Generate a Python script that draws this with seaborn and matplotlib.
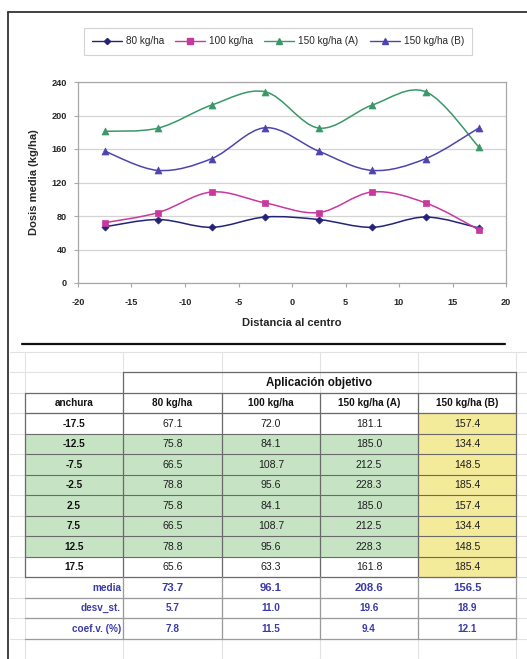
import numpy as np
import pandas as pd
import matplotlib
matplotlib.use("Agg")
import matplotlib.pyplot as plt
from matplotlib.path import Path
from matplotlib.patches import PathPatch, Rectangle
from matplotlib.lines import Line2D
import seaborn as sns

# ---- data -------------------------------------------------------------
anchura = [-17.5, -12.5, -7.5, -2.5, 2.5, 7.5, 12.5, 17.5]
dosis_80 = [67.1, 75.8, 66.5, 78.8, 75.8, 66.5, 78.8, 65.6]
dosis_100 = [72.0, 84.1, 108.7, 95.6, 84.1, 108.7, 95.6, 63.3]
dosis_150a = [181.1, 185.0, 212.5, 228.3, 185.0, 212.5, 228.3, 161.8]
dosis_150b = [157.4, 134.4, 148.5, 185.4, 157.4, 134.4, 148.5, 185.4]
series_names = ["80 kg/ha", "100 kg/ha", "150 kg/ha (A)", "150 kg/ha (B)"]

stat_labels = ["media", "desv_st.", "coef.v. (%)"]
media = [73.7, 96.1, 208.6, 156.5]
desv_st = [5.7, 11.0, 19.6, 18.9]
coef_v = [7.8, 11.5, 9.4, 12.1]

x_ticks = [-20, -15, -10, -5, 0, 5, 10, 15, 20]
y_ticks = [0, 40, 80, 120, 160, 200, 240]

# ---- style ------------------------------------------------------------
sns.set_theme(style="white")
plt.rcParams["font.family"] = ["Liberation Sans", "DejaVu Sans"]

colors = {"80 kg/ha": "#23237a", "100 kg/ha": "#c8389e",
          "150 kg/ha (A)": "#3a9868", "150 kg/ha (B)": "#4e44b0"}
markers = {"80 kg/ha": "D", "100 kg/ha": "s",
           "150 kg/ha (A)": "^", "150 kg/ha (B)": "^"}
msizes = {"80 kg/ha": 3.6, "100 kg/ha": 4.6,
          "150 kg/ha (A)": 5.0, "150 kg/ha (B)": 5.0}

values = {"80 kg/ha": dosis_80, "100 kg/ha": dosis_100,
          "150 kg/ha (A)": dosis_150a, "150 kg/ha (B)": dosis_150b}
df = pd.concat([pd.DataFrame({"anchura": anchura, "dosis": values[n], "serie": n})
                for n in series_names], ignore_index=True)

W, H = 527, 659
fig = plt.figure(figsize=(W / 100, H / 100), dpi=100)

# page overlay in pixel coordinates (borders and table)
pg = fig.add_axes([0, 0, 1, 1])
pg.set_xlim(0, W)
pg.set_ylim(H, 0)
pg.axis("off")
pg.patch.set_alpha(0)

# ---- line chart -------------------------------------------------------
ax = fig.add_axes([78 / W, 1 - 283 / H, 428 / W, 201 / H])
ax.set_facecolor("white")


def smooth_path(xs, ys):
    """Cubic Bezier through the points (Catmull-Rom style tangents)."""
    pts = np.column_stack([xs, ys]).astype(float)
    n = len(pts)
    verts = [pts[0]]
    codes = [Path.MOVETO]
    for i in range(n - 1):
        p0 = pts[max(i - 1, 0)]
        p1 = pts[i]
        p2 = pts[i + 1]
        p3 = pts[min(i + 2, n - 1)]
        c1 = p1 + (p2 - p0) / 6.0
        c2 = p2 - (p3 - p1) / 6.0
        verts += [c1, c2, p2]
        codes += [Path.CURVE4] * 3
    return Path(verts, codes)


for name in series_names:
    sub = df[df["serie"] == name]
    ax.add_patch(PathPatch(smooth_path(sub["anchura"], sub["dosis"]),
                           facecolor="none", edgecolor=colors[name],
                           lw=1.1, zorder=3))

for name in series_names:
    sub = df[df["serie"] == name]
    sns.scatterplot(data=sub, x="anchura", y="dosis", ax=ax,
                    marker=markers[name], color=colors[name],
                    s=msizes[name] ** 2, edgecolor=colors[name],
                    linewidth=0.5, zorder=4, legend=False)

ax.set_xlim(-20, 20)
ax.set_ylim(0, 240)
ax.set_xticks(x_ticks)
ax.set_yticks(y_ticks)
ax.set_xticklabels([str(t) for t in x_ticks])
ax.set_yticklabels([str(t) for t in y_ticks])
ax.grid(axis="y", color="#d4d4d4", lw=0.9)
ax.grid(axis="x", visible=False)
ax.set_axisbelow(True)
for sp in ax.spines.values():
    sp.set_color("#a8a8a8")
    sp.set_linewidth(0.9)
ax.tick_params(axis="both", length=3, width=0.8, color="#a8a8a8",
               labelsize=6.6, pad=5, direction="out")
ax.tick_params(axis="x", pad=8)
ax.tick_params(axis="y", left=True)
ax.tick_params(axis="x", bottom=True)
for lab in ax.get_xticklabels() + ax.get_yticklabels():
    lab.set_fontweight("bold")
ax.set_xlabel("Distancia al centro", fontsize=8, fontweight="bold", labelpad=8)
ax.set_ylabel("Dosis media (kg/ha)", fontsize=8, fontweight="bold", labelpad=9)

handles = [Line2D([0], [0], color=colors[n], marker=markers[n],
                  markersize=msizes[n] - 0.5, lw=1.0) for n in series_names]
leg = fig.legend(handles, series_names, loc="center",
                 bbox_to_anchor=(278 / W, 1 - 41 / H), ncol=4, fontsize=7.2,
                 frameon=True, fancybox=False, handlelength=3.0,
                 handletextpad=0.4, columnspacing=1.1, borderpad=0.85)
leg.get_frame().set_edgecolor("#c8c8c8")
leg.get_frame().set_linewidth(0.8)

# ---- page borders and separator -----------------------------------------
pg.plot([8, 8], [12, H], color="#333333", lw=1.3)
pg.plot([8, W], [12, 12], color="#333333", lw=1.3)
pg.plot([22, 505], [344, 344], color="#111111", lw=1.6)

# ---- table --------------------------------------------------------------
col_x = [25, 123, 222, 320, 418, 516]
h1_top, h1_bot, h2_bot = 372, 393, 413
row_h = 20.5
n_data = len(anchura)
n_rows = n_data + len(stat_labels)
row_y = [h2_bot + row_h * k for k in range(n_rows + 1)]

green = "#c6e3c4"
yellow = "#f3ea9a"
grid_faint = "#e2e2e2"
line_dark = "#6a6a6a"
line_mid = "#9a9a9a"
blue_txt = "#3a3aa8"

# faint sheet gridlines around the table
for y in [352, h1_top, h1_bot, h2_bot] + row_y + [row_y[-1] + row_h]:
    pg.plot([10, W], [y, y], color=grid_faint, lw=0.8, zorder=0)
for x in col_x:
    pg.plot([x, x], [352, H], color=grid_faint, lw=0.8, zorder=0)

# cell fills
for i in range(n_data):
    y0 = row_y[i]
    if 1 <= i <= n_data - 2:
        pg.add_patch(Rectangle((col_x[0], y0), col_x[4] - col_x[0], row_h,
                               facecolor=green, edgecolor="none", zorder=1))
    pg.add_patch(Rectangle((col_x[4], y0), col_x[5] - col_x[4], row_h,
                           facecolor=yellow, edgecolor="none", zorder=1))

# header borders
pg.plot([col_x[1], col_x[5]], [h1_top, h1_top], color=line_dark, lw=0.9, zorder=2)
pg.plot([col_x[0], col_x[5]], [h1_bot, h1_bot], color=line_dark, lw=0.9, zorder=2)
pg.plot([col_x[1], col_x[1]], [h1_top, h1_bot], color=line_dark, lw=0.9, zorder=2)
pg.plot([col_x[5], col_x[5]], [h1_top, h1_bot], color=line_dark, lw=0.9, zorder=2)
pg.plot([col_x[0], col_x[5]], [h2_bot, h2_bot], color=line_dark, lw=0.9, zorder=2)

# data grid lines
data_bot = row_y[n_data]
for y in row_y[1:n_data]:
    pg.plot([col_x[0], col_x[5]], [y, y], color=line_dark, lw=0.8, zorder=2)
pg.plot([col_x[0], col_x[5]], [data_bot, data_bot], color=line_dark, lw=0.9, zorder=2)
for x in col_x:
    pg.plot([x, x], [h1_bot, data_bot], color=line_dark, lw=0.9, zorder=2)

# stats rows lines
for y in row_y[n_data + 1:]:
    pg.plot([col_x[0], col_x[5]], [y, y], color=line_mid, lw=0.9, zorder=2)
for x in col_x[1:]:
    pg.plot([x, x], [data_bot, row_y[-1]], color=line_mid, lw=0.9, zorder=2)

def cx(c):
    return (col_x[c] + col_x[c + 1]) / 2

tk = dict(fontsize=7.2, fontweight="bold", ha="center", va="center", zorder=3)
pg.text((col_x[1] + col_x[5]) / 2, (h1_top + h1_bot) / 2 + 0.5,
        "Aplicación objetivo", fontsize=8.3, fontweight="bold",
        ha="center", va="center", color="#111111", zorder=3)
hy = (h1_bot + h2_bot) / 2 + 0.5
pg.text(cx(0), hy, "anchura", color="#111111", **tk)
for c, name in enumerate(series_names):
    pg.text(cx(c + 1), hy, name, color="#111111", **tk)

cols = [dosis_80, dosis_100, dosis_150a, dosis_150b]
for i, a in enumerate(anchura):
    yc = row_y[i] + row_h / 2 + 0.5
    pg.text(cx(0), yc, f"{a:.1f}", color="#111111", **tk)
    for c, col in enumerate(cols):
        pg.text(cx(c + 1), yc, f"{col[i]:.1f}", color="#1e1e1e",
                **{**tk, "fontweight": "normal", "fontsize": 7.6})

for j, (lab, vals) in enumerate(zip(stat_labels, [media, desv_st, coef_v])):
    yc = row_y[n_data + j] + row_h / 2 + 0.5
    pg.text(col_x[1] - 2, yc, lab, color=blue_txt, fontsize=7.2,
            fontweight="bold", ha="right", va="center", zorder=3)
    fs = 8.2 if j == 0 else 7.2
    for c, v in enumerate(vals):
        pg.text(cx(c + 1), yc, f"{v:.1f}", color=blue_txt,
                **{**tk, "fontsize": fs})

fig.savefig("out.png", dpi=100, facecolor="white")
